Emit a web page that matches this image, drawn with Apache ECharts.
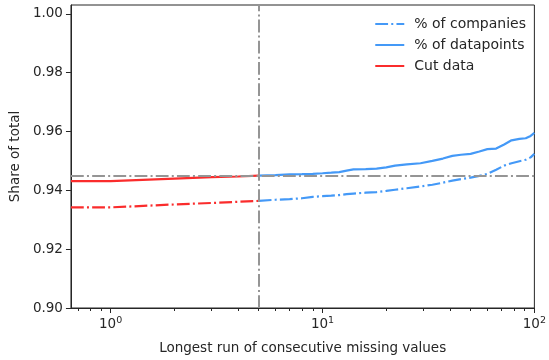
<!DOCTYPE html>
<html>
<head>
<meta charset="utf-8">
<script src="https://cdn.jsdelivr.net/npm/echarts@6/dist/echarts.min.js"></script>
<style>html,body{margin:0;padding:0;background:#fff}#c{width:549px;height:360px}</style>
</head>
<body>
<div id="c"></div>
<script>
// ---- data ----
const cutX = [0.65, 1, 2, 3, 4, 5];           // 0.65 stands for run length 0 clipped at axis edge
const cutDatapoints = [0.9431, 0.9431, 0.9440, 0.9445, 0.9447, 0.9450];
const cutCompanies  = [0.9342, 0.9342, 0.9352, 0.9357, 0.9361, 0.9364];

const keptX = [5, 6, 7, 8, 9, 10, 11, 12, 13, 14, 16, 18, 20, 22, 25, 29, 33, 37, 41, 45, 50, 55, 60, 66, 72, 78, 85, 91, 96, 100];
const keptDatapoints = [0.9450, 0.9452, 0.9454, 0.9455, 0.9456, 0.9458, 0.9460, 0.9462, 0.9467, 0.9471, 0.9472, 0.9474, 0.9478, 0.9484, 0.9488, 0.9492, 0.9500, 0.9508, 0.9517, 0.9521, 0.9524, 0.9532, 0.9540, 0.9542, 0.9556, 0.9570, 0.9575, 0.9577, 0.9585, 0.9595];
const keptCompanies  = [0.9364, 0.9368, 0.9370, 0.9373, 0.9378, 0.9380, 0.9382, 0.9384, 0.9387, 0.9389, 0.9392, 0.9394, 0.9398, 0.9402, 0.9407, 0.9413, 0.9419, 0.9426, 0.9433, 0.9438, 0.9443, 0.9449, 0.9456, 0.9470, 0.9484, 0.9492, 0.9499, 0.9504, 0.9512, 0.9524];

const cutoffX = 5;
const cutoffY = 0.945;

const yTicks = [0.90, 0.92, 0.94, 0.96, 0.98, 1.00];
const xMajorTicks = [1, 10, 100];
const xMinorTicks = [0.7, 0.8, 0.9, 2, 3, 4, 5, 6, 7, 8, 9, 20, 30, 40, 50, 60, 70, 80, 90];

const seriesNames = ['% of companies', '% of datapoints', 'Cut data'];

// ---- chart ----
const BLUE = '#4499f7';
const RED = '#fa2c2c';
const GRAY = '#959595';
const DASHDOT = [12.8, 3.2, 2, 3.2];
const FONT = 'DejaVu Sans';
const TXT = '#262626';
const AX = '#262626';

function zip(xs, ys) { return xs.map((x, i) => [x, ys[i]]); }
const refLineStyle = {color: GRAY, width: 2, type: DASHDOT};

const chart = echarts.init(document.getElementById('c'), null, {renderer: 'canvas'});
chart.setOption({
  animation: false,
  textStyle: {fontFamily: FONT},
  grid: {left: 70, right: 10, top: 5, bottom: 52, show: true, borderColor: AX, borderWidth: 1, backgroundColor: 'transparent'},
  legend: {
    data: seriesNames,
    orient: 'vertical',
    right: 18, top: 12,
    itemGap: 7,
    itemWidth: 29, itemHeight: 14,
    itemStyle: {opacity: 0},
    textStyle: {fontFamily: FONT, fontSize: 14, color: TXT, padding: [0, 0, 0, 5]},
  },
  xAxis: [{
    type: 'log', logBase: 10, min: 0.65, max: 100,
    name: 'Longest run of consecutive missing values',
    nameLocation: 'middle', nameGap: 33,
    nameTextStyle: {fontFamily: FONT, fontSize: 13.5, color: TXT},
    axisLine: {lineStyle: {color: AX}},
    axisTick: {show: true, length: 5, inside: false, lineStyle: {color: AX}, customValues: xMajorTicks},
    minorTick: {show: false},
    splitLine: {show: false},
    axisLabel: {
      customValues: xMajorTicks,
      margin: 8,
      color: TXT, fontFamily: FONT, fontSize: 13.5,
      formatter: function (v) { return '{b|10}{s|' + Math.round(Math.log10(v)) + '}'; },
      rich: {b: {fontFamily: FONT, fontSize: 13.5, color: TXT}, s: {fontFamily: FONT, fontSize: 9.5, color: TXT, padding: [0, 0, 7, 0]}}
    }
  }, {
    type: 'log', logBase: 10, min: 0.65, max: 100, position: 'bottom',
    axisLine: {show: true, lineStyle: {color: AX}},
    axisTick: {show: true, length: 3, inside: false, lineStyle: {color: AX}, customValues: xMinorTicks},
    axisLabel: {show: false},
    splitLine: {show: false}
  }],
  yAxis: {
    type: 'value', min: 0.9, max: 1.003,
    name: 'Share of total', nameLocation: 'middle', nameGap: 48,
    nameTextStyle: {fontFamily: FONT, fontSize: 13.5, color: TXT},
    axisLine: {show: true, lineStyle: {color: AX}},
    axisTick: {show: true, length: 5, lineStyle: {color: AX}, customValues: yTicks},
    splitLine: {show: false},
    axisLabel: {customValues: yTicks, color: TXT, fontFamily: FONT, fontSize: 13.5, margin: 8, formatter: v => v.toFixed(2)}
  },
  series: [
    {name: seriesNames[0], type: 'line', xAxisIndex: 0, data: zip(keptX, keptCompanies), showSymbol: false, symbol: 'none',
      lineStyle: {color: BLUE, width: 2.2, type: DASHDOT}, itemStyle: {color: BLUE}, z: 3},
    {name: seriesNames[1], type: 'line', xAxisIndex: 0, data: zip(keptX, keptDatapoints), showSymbol: false, symbol: 'none',
      lineStyle: {color: BLUE, width: 2.2}, itemStyle: {color: BLUE}, z: 3,
      markLine: {silent: true, symbol: 'none', label: {show: false}, precision: 4,
        lineStyle: refLineStyle,
        emphasis: {disabled: true},
        data: [{xAxis: cutoffX, lineStyle: refLineStyle}, {yAxis: cutoffY, lineStyle: refLineStyle}]}},
    {name: seriesNames[2], type: 'line', xAxisIndex: 0, data: zip(cutX, cutDatapoints), showSymbol: false, symbol: 'none',
      lineStyle: {color: RED, width: 2.2}, itemStyle: {color: RED}, z: 3},
    {name: 'Cut companies', type: 'line', xAxisIndex: 1, data: zip(cutX, cutCompanies), showSymbol: false, symbol: 'none',
      lineStyle: {color: RED, width: 2.2, type: DASHDOT}, itemStyle: {color: RED}, z: 3}
  ]
});
</script>
</body>
</html>
